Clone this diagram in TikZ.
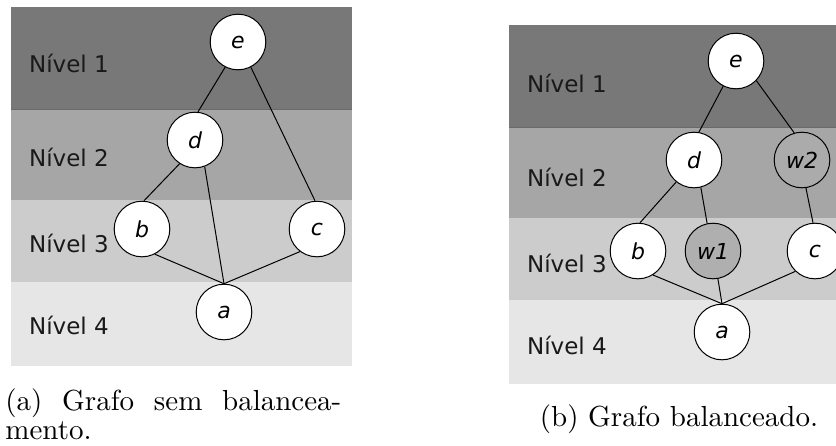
\documentclass[tikz,border=0pt]{standalone}
\usepackage{fontspec}
\newfontfamily\lvlfont{DejaVu Sans}
\newfontfamily\capfont[Extension=.otf]{lmroman10-regular}
\definecolor{bandA}{HTML}{787878}
\definecolor{bandB}{HTML}{A6A6A6}
\definecolor{bandC}{HTML}{CCCCCC}
\definecolor{bandD}{HTML}{E6E6E6}
\definecolor{divider}{HTML}{6A6A6A}
\definecolor{wonefill}{HTML}{AFAFAF}
\definecolor{wtwofill}{HTML}{ABABAB}
\begin{document}
\begin{tikzpicture}[x=0.5pt,y=-0.5pt,
  vtx/.style={circle, draw=black, line width=0.5pt, fill=white,
    minimum size=27.8pt, inner sep=0pt,
    font=\lvlfont\itshape\fontsize{11}{13}\selectfont},
  lvl/.style={anchor=west, text=black!90,
    font=\lvlfont\fontsize{11.5}{14}\selectfont},
  edge/.style={line width=0.5pt, black},
  captext/.style={inner sep=0pt, font=\capfont\fontsize{14.5}{17}\selectfont}]
\useasboundingbox (0,0) rectangle (836,445);

% ---- left panel: unbalanced graph ----
\fill[bandA] (11,7)   rectangle (352,109);
\fill[bandB] (11,109) rectangle (352,200);
\fill[bandC] (11,200) rectangle (352,282);
\fill[bandD] (11,282) rectangle (352,366);
\draw[divider, line width=0.5pt] (11,109) -- (352,109);

\node[lvl] (ln1) at (22,63)  {Nível 1};
\node[lvl] (ln2) at (22,157) {Nível 2};
\node[lvl] (ln3) at (22,243) {Nível 3};
\node[lvl] (ln4) at (22,325) {Nível 4};

\node[vtx] (le) at (238,42)  {e};
\node[vtx] (ld) at (195,140) {d};
\node[vtx] (lb) at (142,229) {b};
\node[vtx] (lc) at (317,229) {c};
\node[vtx] (la) at (224,312) {a};

\draw[edge] (le.-117) -- (ld.84);
\draw[edge] (le.-63)  -- (lc.94);
\draw[edge] (ld.-123) -- (lb.86);
\draw[edge] (ld.-70)  -- (la.north);
\draw[edge] (lb.-63)  -- (la.north);
\draw[edge] (lc.-127) -- (la.north);

% ---- right panel: balanced graph ----
\begin{scope}
\clip (0,0) rectangle (836,445);
\fill[bandA] (509,25)  rectangle (840,127);
\fill[bandB] (509,127) rectangle (840,218);
\fill[bandC] (509,218) rectangle (840,300);
\fill[bandD] (509,300) rectangle (840,384);
\draw[divider, line width=0.5pt] (509,127) -- (840,127);

\node[lvl] (rn1) at (520,83)  {Nível 1};
\node[lvl] (rn2) at (520,177) {Nível 2};
\node[lvl] (rn3) at (520,263) {Nível 3};
\node[lvl] (rn4) at (520,345) {Nível 4};

\node[vtx] (re)  at (736,61)  {e};
\node[vtx] (rd)  at (694,160) {d};
\node[vtx, fill=wtwofill] (rw2) at (802,160) {w2};
\node[vtx] (rb)  at (638,251) {b};
\node[vtx, fill=wonefill] (rw1) at (713,251) {w1};
\node[vtx] (rc)  at (815,251) {c};
\node[vtx] (ra)  at (722,332) {a};

\draw[edge] (re.-117) -- (rd.80);
\draw[edge] (re.-44)  -- (rw2.106);
\draw[edge] (rd.-129) -- (rb.86);
\draw[edge] (rd.-76)  -- (rw1.102);
\draw[edge] (rw2.-82) -- (rc.94);
\draw[edge] (rb.-58)  -- (ra.north);
\draw[edge] (rw1.-80) -- (ra.north);
\draw[edge] (rc.-134) -- (ra.north);
\end{scope}

% ---- captions ----
\node[captext, anchor=base west] (capa1) at (5,410)
  {\makebox[168pt][s]{(a) Grafo sem balancea-}};
\node[captext, anchor=base west] (capa2) at (5,439) {mento.};
\node[captext, anchor=base] (capb) at (679,426) {(b) Grafo balanceado.};
\end{tikzpicture}
\end{document}
